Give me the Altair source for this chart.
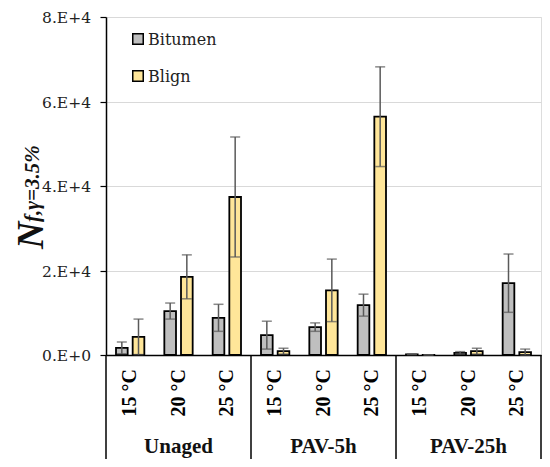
import altair as alt
import pandas as pd

groups = ["Unaged", "PAV-5h", "PAV-25h"]
temps = ["15 °C", "20 °C", "25 °C"]
materials = ["Bitumen", "Blign"]
colors = ["#bfbfbf", "#ffe699"]
bitumen = [1700, 10400, 8800, 4700, 6600, 11800, 150, 500, 17000]
bitumen_err = [1400, 1900, 3200, 3300, 1000, 2600, 50, 300, 6900]
blign = [4300, 18500, 37400, 900, 15300, 56400, 30, 900, 700]
blign_err = [4200, 5200, 14200, 700, 7400, 11800, 20, 700, 700]
y_ticks = [0, 20000, 40000, 60000, 80000]
y_labels = ["0.E+0", "2.E+4", "4.E+4", "6.E+4", "8.E+4"]

keys = [f"{g}|{t}" for g in groups for t in temps]
rows = []
for i, k in enumerate(keys):
    for m, vals, errs in (("Bitumen", bitumen, bitumen_err), ("Blign", blign, blign_err)):
        v, e = vals[i], errs[i]
        rows.append({"key": k, "material": m, "value": v, "lo": max(v - e, 0), "hi": v + e})
df = pd.DataFrame(rows)

FONT = "Liberation Serif"
FONT_REG = "DejaVu Serif"
W, H = 435, 338

xscale = alt.Scale(domain=keys, paddingInner=0, paddingOuter=0)
xoff = alt.XOffset("material:N", scale=alt.Scale(domain=materials, paddingInner=0.3, paddingOuter=0.6))
yscale = alt.Scale(domain=[0, 80000])

base = alt.Chart(df)

bars = base.mark_bar(stroke="black", strokeWidth=1.8).encode(
    x=alt.X("key:N", scale=xscale, sort=keys,
            axis=alt.Axis(title=None, labels=False, ticks=False,
                          domainColor="black", domainWidth=1.5)),
    xOffset=xoff,
    y=alt.Y("value:Q", scale=yscale,
            axis=alt.Axis(title=None, values=y_ticks, labels=False,
                          tickSize=6, tickColor="black", tickWidth=1.2,
                          domainColor="black", domainWidth=1.5,
                          grid=True, gridColor="#d9d9d9", gridWidth=1.2)),
    color=alt.Color("material:N", scale=alt.Scale(domain=materials, range=colors), legend=None),
)

err_rule = base.mark_rule(color="#595959", strokeWidth=1.5).encode(
    x=alt.X("key:N", scale=xscale, sort=keys), xOffset=xoff,
    y=alt.Y("lo:Q", scale=yscale), y2="hi:Q",
)
cap_hi = base.mark_tick(color="#595959", thickness=1.5, size=10).encode(
    x=alt.X("key:N", scale=xscale, sort=keys), xOffset=xoff,
    y=alt.Y("hi:Q", scale=yscale),
)
cap_lo = base.mark_tick(color="#595959", thickness=1.5, size=10).encode(
    x=alt.X("key:N", scale=xscale, sort=keys), xOffset=xoff,
    y=alt.Y("lo:Q", scale=yscale),
)

# y tick labels
ylab = alt.Chart(pd.DataFrame({"v": y_ticks, "lab": y_labels})).mark_text(
    font=FONT_REG, fontSize=15.5, color="#222", align="right", baseline="middle",
    dy=1).encode(
    y=alt.Y("v:Q", scale=yscale), x=alt.value(-15), text="lab:N",
)

# x temperature labels
xlab_df = pd.DataFrame({"key": keys, "lab": [t for g in groups for t in temps]})
xlab = alt.Chart(xlab_df).mark_text(
    font=FONT, fontSize=20, fontWeight="bold", color="black", angle=270,
    align="right", baseline="middle").encode(
    x=alt.X("key:N", scale=xscale, sort=keys), y=alt.value(H + 14), text="lab:N",
)

sep_df = pd.DataFrame({"key": [f"{g}|{temps[0]}" for g in groups]})
seps = alt.Chart(sep_df).mark_rule(color="black", strokeWidth=1.5).encode(
    x=alt.X("key:N", scale=xscale, sort=keys, bandPosition=0),
    y=alt.value(H), y2=alt.value(H + 104),
)
sep_end = alt.Chart(pd.DataFrame({"key": [keys[-1]]})).mark_rule(color="black", strokeWidth=1.5).encode(
    x=alt.X("key:N", scale=xscale, sort=keys, bandPosition=1),
    y=alt.value(H), y2=alt.value(H + 104),
)

grp_df = pd.DataFrame({"key": [f"{g}|{temps[1]}" for g in groups], "label": groups})
grp_text = alt.Chart(grp_df).mark_text(font=FONT, fontSize=21, fontWeight="bold", color="#111",
                                       baseline="alphabetic").encode(
    x=alt.X("key:N", scale=xscale, sort=keys),
    y=alt.value(H + 98),
    text="label:N",
)

title_df = pd.DataFrame({"t": ["N"], "s": ["f,γ=3.5%"]})
title_n = alt.Chart(title_df).mark_text(font=FONT, fontSize=38, fontWeight="bold", fontStyle="italic",
                                        angle=270, align="left", baseline="alphabetic", color="#111").encode(
    x=alt.value(-63), y=alt.value(232), text="t:N",
)
title_s = alt.Chart(title_df).mark_text(font=FONT, fontSize=21, fontWeight="bold", fontStyle="italic",
                                        angle=270, align="left", baseline="alphabetic", color="#111").encode(
    x=alt.value(-67), y=alt.value(205), text="s:N",
)

# legend (drawn as marks)
leg_layers = []
for i, (m, c) in enumerate(zip(materials, colors)):
    ldf = pd.DataFrame({"m": [m]})
    leg_layers.append(alt.Chart(ldf).mark_square(size=110, fill=c, stroke="black", strokeWidth=1.5,
                                                 opacity=1).encode(
        x=alt.value(32), y=alt.value(22 + 37 * i)))
    leg_layers.append(alt.Chart(ldf).mark_text(font=FONT_REG, fontSize=16, color="#222",
                                               align="left", baseline="middle").encode(
        x=alt.value(42), y=alt.value(23 + 37 * i), text="m:N"))

chart = alt.layer(bars, err_rule, cap_hi, cap_lo, seps, sep_end, ylab, xlab, grp_text,
                  title_n, title_s, *leg_layers).properties(
    width=W, height=H,
    autosize=alt.AutoSizeParams(type="none"),
    padding={"left": 98, "top": 9, "right": 1, "bottom": 104},
).configure_view(stroke="black", strokeWidth=1.5).configure(background="white")

chart.save("out.html", embed_options={"renderer": "svg", "actions": False})
